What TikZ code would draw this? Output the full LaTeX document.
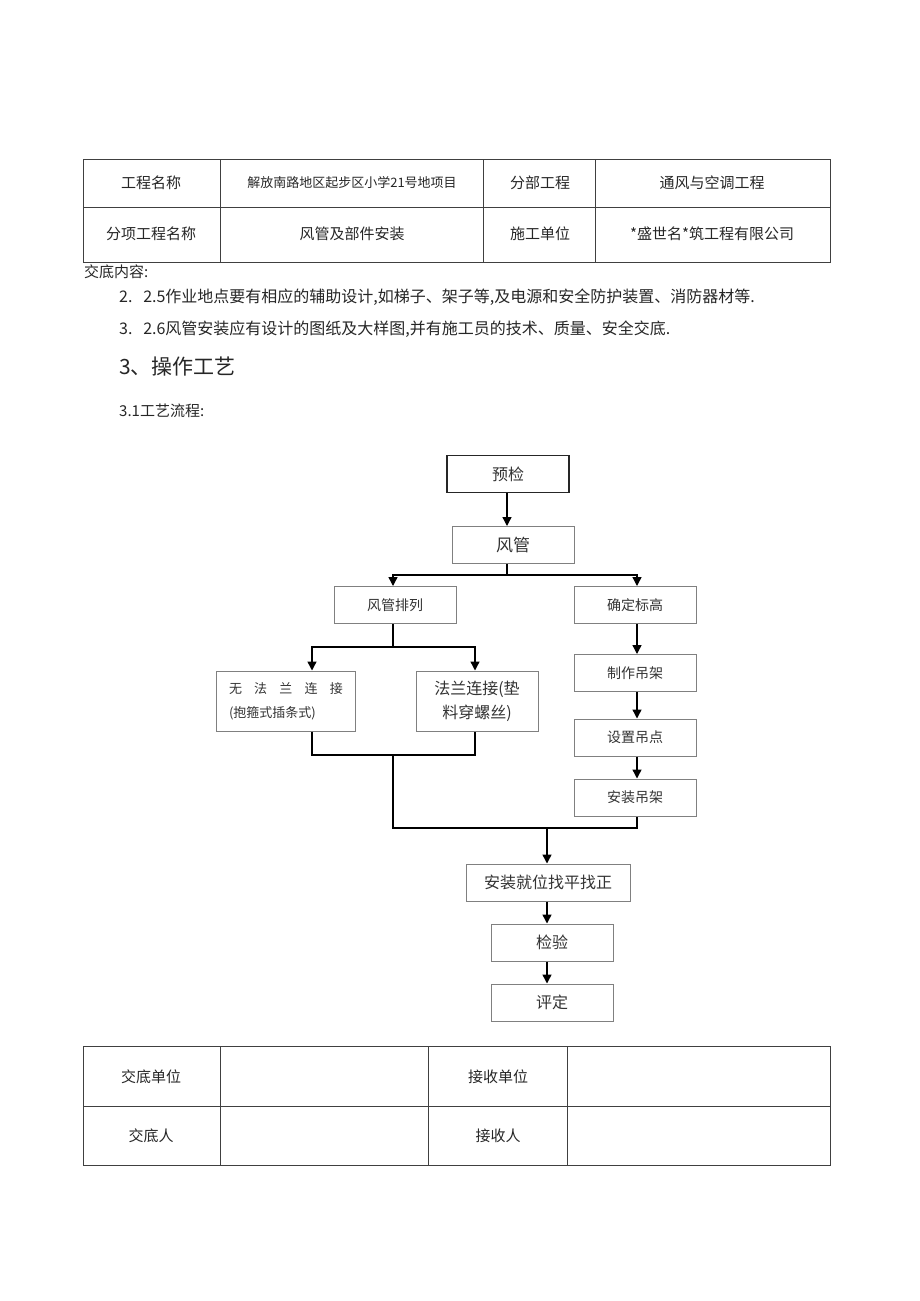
\documentclass[tikz,border=0pt]{standalone}
\usepackage{fontspec}
\setmainfont{Noto Sans CJK SC}
\usetikzlibrary{arrows.meta, positioning}

\begin{document}
\begin{tikzpicture}[x=1pt, y=-1pt,
  box/.style={draw=black!50, line width=1pt, minimum width=122pt, minimum height=37pt,
    inner sep=0pt, text=black!80, font=\fontsize{14}{17}\selectfont},
  arr/.style={-{Triangle[length=9pt,width=9pt]}, line width=1.4pt},
  link/.style={line width=1.4pt},
  rule/.style={draw=black!75, line width=1pt},
  cell/.style={text=black!85, font=\fontsize{15}{18}\selectfont},
  para/.style={anchor=west, inner sep=0pt, text=black!85, font=\fontsize{16}{19}\selectfont}]

  \useasboundingbox[fill=white] (0,0) rectangle (920,1301);

  % Header table
  \draw[rule] (83,159) rectangle (830,262);
  \draw[rule] (83,207) -- (830,207);
  \foreach \x in {220,483,595}
    \draw[rule] (\x,159) -- (\x,262);
  \node[cell] (name) at (151,183) {工程名称};
  \node[cell, font=\fontsize{13}{16}\selectfont] (project) at (352,183) {解放南路地区起步区小学21号地项目};
  \node[cell] (part) at (540,183) {分部工程};
  \node[cell] (partname) at (712,183) {通风与空调工程};
  \node[cell] (sub) at (151,234) {分项工程名称};
  \node[cell] (subname) at (352,234) {风管及部件安装};
  \node[cell] (unit) at (540,234) {施工单位};
  \node[cell] (unitname) at (712,234) {*盛世名*筑工程有限公司};

  % Text above the chart
  \node[para, font=\fontsize{15}{18}\selectfont] (intro) at (84,272) {交底内容:};
  \node[para] (item1) at (119,297) {2.\ \ \ 2.5作业地点要有相应的辅助设计,如梯子、架子等,及电源和安全防护装置、消防器材等.};
  \node[para] (item2) at (119,329) {3.\ \ \ 2.6风管安装应有设计的图纸及大样图,并有施工员的技术、质量、安全交底.};
  \node[para, font=\fontsize{21}{24}\selectfont] (title) at (119,367) {3、操作工艺};
  \node[para, font=\fontsize{15}{18}\selectfont] (flowtitle) at (119,411) {3.1工艺流程:};

  % Flow chart boxes
  \node[box, draw=black!85, line width=1.6pt, font=\fontsize{16}{19}\selectfont] (yujian) at (508,474) {预检};
  \node[box, font=\fontsize{17}{20}\selectfont] (fengguan) at (513,545) {风管};
  \node[box] (pailie) at (395,605) {风管排列};
  \node[box] (biaogao) at (635,605) {确定标高};
  \node[box, minimum width=139pt, minimum height=60pt, align=left, font=\fontsize{13}{24}\selectfont] (wufalan) at (286,701)
    {\makebox[114pt][s]{无\hfill 法\hfill 兰\hfill 连\hfill 接}\\(抱箍式插条式)};
  \node[box, minimum height=60pt, align=center, font=\fontsize{16}{24}\selectfont] (falan) at (477,701) {法兰连接(垫\\料穿螺丝)};
  \node[box] (zhizuo) at (635,673) {制作吊架};
  \node[box] (shezhi) at (635,737.5) {设置吊点};
  \node[box] (anzhuang) at (635,797.5) {安装吊架};
  \node[box, minimum width=164pt, font=\fontsize{16}{19}\selectfont] (jiuwei) at (548,882.5) {安装就位找平找正};
  \node[box, font=\fontsize{16}{19}\selectfont] (jianyan) at (552,942.5) {检验};
  \node[box, font=\fontsize{16}{19}\selectfont] (pingding) at (552,1002.5) {评定};

  % Bends of the connectors
  \coordinate (trunk) at (507,575);
  \coordinate (left) at (393,647);
  \coordinate (drop) at (312,647);
  \coordinate (m1) at (312,755);
  \coordinate (m2) at (475,755);
  \coordinate (m3) at (393,755);
  \coordinate (m4) at (393,828);
  \coordinate (m5) at (637,828);
  \coordinate (m6) at (547,828);

  % Connectors
  \draw[arr] (yujian.south -| trunk) -- (fengguan.north -| trunk);
  \draw[link] (fengguan.south -| trunk) -- (trunk);
  \draw[arr] (trunk) -| (pailie.north -| left);
  \draw[arr] (trunk) -| (biaogao.north -| m5);
  \draw[link] (pailie.south -| left) -- (left);
  \draw[arr] (left) -- (drop) -- (wufalan.north -| drop);
  \draw[arr] (left) -| (falan.north -| m2);
  \draw[arr] (biaogao.south -| m5) -- (zhizuo.north -| m5);
  \draw[arr] (zhizuo.south -| m5) -- (shezhi.north -| m5);
  \draw[arr] (shezhi.south -| m5) -- (anzhuang.north -| m5);
  \draw[link] (wufalan.south -| m1) -- (m1) -- (m2) -- (falan.south -| m2);
  \draw[link] (m3) -- (m4) -- (m5) -- (anzhuang.south -| m5);
  \draw[arr] (m6) -- (jiuwei.north -| m6);
  \draw[arr] (jiuwei.south -| m6) -- (jianyan.north -| m6);
  \draw[arr] (jianyan.south -| m6) -- (pingding.north -| m6);

  % Sign-off table
  \draw[rule] (83,1046) rectangle (830,1165);
  \draw[rule] (83,1106) -- (830,1106);
  \foreach \x in {220,428,567}
    \draw[rule] (\x,1046) -- (\x,1165);
  \node[cell] (giver) at (151,1077) {交底单位};
  \node[cell] (taker) at (498,1077) {接收单位};
  \node[cell] (giverman) at (151,1136) {交底人};
  \node[cell] (takerman) at (498,1136) {接收人};
\end{tikzpicture}
\end{document}
